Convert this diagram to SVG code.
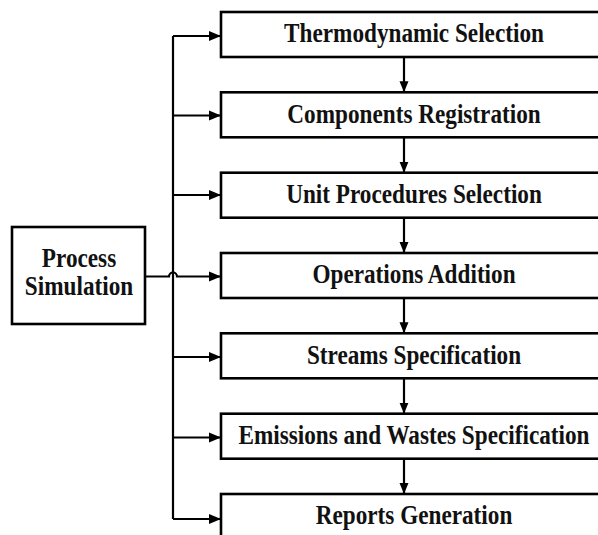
<svg xmlns="http://www.w3.org/2000/svg" width="598" height="535" viewBox="0 0 598 535">
  <style>
    .box { fill: #ffffff; stroke: #000000; stroke-width: 2.6; }
    .lbl { font-family: "Liberation Serif", "Times New Roman", serif; font-weight: bold; font-size: 27px; fill: #111111; text-anchor: middle; }
    .wire { fill: none; stroke: #000000; stroke-width: 2.2; }
  </style>
  <defs>
    <marker id="headR" markerUnits="userSpaceOnUse" markerWidth="14" markerHeight="12" refX="12" refY="6" orient="auto">
      <path d="M0,1 L12,6 L0,11 Z" fill="#000000"/>
    </marker>
    <marker id="headD" markerUnits="userSpaceOnUse" markerWidth="12" markerHeight="10" refX="11" refY="5" orient="auto">
      <path d="M0,0.5 L11,5 L0,9.5 Z" fill="#000000"/>
    </marker>
  </defs>

  <!-- source node -->
  <g id="process-simulation">
    <rect class="box" x="12" y="227" width="133" height="97"/>
    <g transform="translate(79,266.5) scale(0.86,1)"><text class="lbl" x="0" y="0">Process</text></g>
    <g transform="translate(79,295) scale(0.86,1)"><text class="lbl" x="0" y="0">Simulation</text></g>
  </g>

  <!-- step boxes -->
  <g id="thermodynamic-selection">
    <rect class="box" x="221" y="12" width="390" height="45"/>
    <g transform="translate(414,42.3) scale(0.86,1)"><text class="lbl" x="0" y="0">Thermodynamic Selection</text></g>
  </g>
  <g id="components-registration">
    <rect class="box" x="221" y="92.3" width="390" height="45"/>
    <g transform="translate(414,122.6) scale(0.86,1)"><text class="lbl" x="0" y="0">Components Registration</text></g>
  </g>
  <g id="unit-procedures-selection">
    <rect class="box" x="221" y="172.7" width="390" height="45"/>
    <g transform="translate(414,203) scale(0.86,1)"><text class="lbl" x="0" y="0">Unit Procedures Selection</text></g>
  </g>
  <g id="operations-addition">
    <rect class="box" x="221" y="253" width="390" height="45"/>
    <g transform="translate(414,283.3) scale(0.86,1)"><text class="lbl" x="0" y="0">Operations Addition</text></g>
  </g>
  <g id="streams-specification">
    <rect class="box" x="221" y="333.3" width="390" height="45"/>
    <g transform="translate(414,363.6) scale(0.86,1)"><text class="lbl" x="0" y="0">Streams Specification</text></g>
  </g>
  <g id="emissions-wastes-specification">
    <rect class="box" x="221" y="413.7" width="390" height="45"/>
    <g transform="translate(414,444) scale(0.86,1)"><text class="lbl" x="0" y="0">Emissions and Wastes Specification</text></g>
  </g>
  <g id="reports-generation">
    <rect class="box" x="221" y="494" width="390" height="45"/>
    <g transform="translate(414,524.3) scale(0.86,1)"><text class="lbl" x="0" y="0">Reports Generation</text></g>
  </g>

  <!-- connectors -->
  <g id="connectors">
    <!-- distribution trunk -->
    <path class="wire" d="M173,36 L173,519"/>
    <!-- branches to each step -->
    <path class="wire" d="M173,36 L221,36" marker-end="url(#headR)"/>
    <path class="wire" d="M173,115.5 L221,115.5" marker-end="url(#headR)"/>
    <path class="wire" d="M173,195 L221,195" marker-end="url(#headR)"/>
    <path class="wire" d="M145,276.5 L169,276.5 A4,4 0 0 1 177,276.5 L221,276.5" marker-end="url(#headR)"/>
    <path class="wire" d="M173,357 L221,357" marker-end="url(#headR)"/>
    <path class="wire" d="M173,437.5 L221,437.5" marker-end="url(#headR)"/>
    <path class="wire" d="M173,519 L221,519" marker-end="url(#headR)"/>
    <!-- sequence between steps -->
    <path class="wire" d="M404,57 L404,92.3" marker-end="url(#headD)"/>
    <path class="wire" d="M404,137.3 L404,172.7" marker-end="url(#headD)"/>
    <path class="wire" d="M404,217.7 L404,253" marker-end="url(#headD)"/>
    <path class="wire" d="M404,298 L404,333.3" marker-end="url(#headD)"/>
    <path class="wire" d="M404,378.3 L404,413.7" marker-end="url(#headD)"/>
    <path class="wire" d="M404,458.7 L404,494" marker-end="url(#headD)"/>
  </g>
</svg>
